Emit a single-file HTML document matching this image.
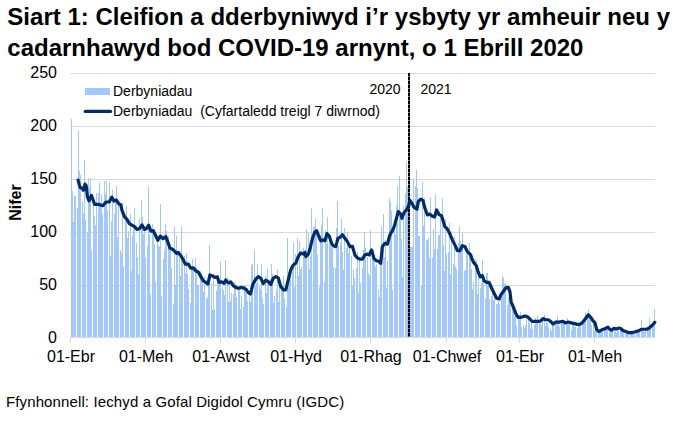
<!DOCTYPE html>
<html><head><meta charset="utf-8"><style>
html,body{margin:0;padding:0;background:#fff;}
body{width:678px;height:421px;overflow:hidden;position:relative;font-family:"Liberation Sans",sans-serif;}
svg{position:absolute;left:0;top:0;}
</style></head><body>
<svg width="678" height="421" viewBox="0 0 678 421" font-family="Liberation Sans, sans-serif">
<text x="7.3" y="24.6" font-size="24" font-weight="bold" letter-spacing="0.02" fill="#000">Siart 1: Cleifion a dderbyniwyd i’r ysbyty yr amheuir neu y</text>
<text x="7.3" y="55.9" font-size="24" font-weight="bold" fill="#000">cadarnhawyd bod COVID-19 arnynt, o 1 Ebrill 2020</text>
<line x1="70" y1="73.5" x2="655" y2="73.5" stroke="#d9d9d9" stroke-width="1"/><line x1="70" y1="126.5" x2="655" y2="126.5" stroke="#d9d9d9" stroke-width="1"/><line x1="70" y1="179.5" x2="655" y2="179.5" stroke="#d9d9d9" stroke-width="1"/><line x1="70" y1="232.5" x2="655" y2="232.5" stroke="#d9d9d9" stroke-width="1"/><line x1="70" y1="285.5" x2="655" y2="285.5" stroke="#d9d9d9" stroke-width="1"/>
<path d="M71 337V119.0h1V337zM72 337V191.0h1V337zM73 337V222.0h1V337zM74 337V196.0h1V337zM75 337V196.0h1V337zM77 337V208.0h1V337zM78 337V131.0h1V337zM79 337V171.0h1V337zM80 337V175.4h1V337zM82 337V201.0h1V337zM83 337V213.2h1V337zM84 337V160.0h1V337zM85 337V220.0h1V337zM87 337V232.1h1V337zM88 337V178.0h1V337zM89 337V187.4h1V337zM90 337V178.0h1V337zM91 337V249.5h1V337zM93 337V200.6h1V337zM94 337V216.0h1V337zM95 337V225.4h1V337zM96 337V193.3h1V337zM98 337V193.0h1V337zM99 337V182.0h1V337zM100 337V202.1h1V337zM101 337V194.4h1V337zM102 337V213.9h1V337zM104 337V181.0h1V337zM105 337V193.6h1V337zM106 337V181.0h1V337zM107 337V210.5h1V337zM109 337V182.0h1V337zM110 337V256.1h1V337zM111 337V221.3h1V337zM112 337V190.0h1V337zM114 337V214.0h1V337zM115 337V202.6h1V337zM116 337V186.0h1V337zM117 337V237.3h1V337zM118 337V204.9h1V337zM120 337V249.8h1V337zM121 337V252.6h1V337zM122 337V202.6h1V337zM123 337V267.0h1V337zM125 337V217.3h1V337zM126 337V206.0h1V337zM127 337V237.5h1V337zM128 337V230.9h1V337zM130 337V214.0h1V337zM131 337V271.2h1V337zM132 337V236.2h1V337zM133 337V224.8h1V337zM134 337V208.0h1V337zM136 337V242.8h1V337zM137 337V256.6h1V337zM138 337V275.1h1V337zM139 337V218.3h1V337zM141 337V200.0h1V337zM142 337V216.7h1V337zM143 337V234.3h1V337zM144 337V227.8h1V337zM145 337V257.1h1V337zM147 337V246.2h1V337zM148 337V186.0h1V337zM149 337V234.3h1V337zM150 337V293.7h1V337zM152 337V224.4h1V337zM153 337V230.7h1V337zM154 337V243.7h1V337zM155 337V281.8h1V337zM157 337V240.1h1V337zM158 337V244.7h1V337zM159 337V247.1h1V337zM160 337V204.0h1V337zM161 337V296.4h1V337zM163 337V258.8h1V337zM164 337V250.4h1V337zM165 337V224.0h1V337zM166 337V231.0h1V337zM168 337V235.9h1V337zM169 337V247.0h1V337zM170 337V247.9h1V337zM171 337V267.6h1V337zM173 337V303.8h1V337zM174 337V227.0h1V337zM175 337V284.9h1V337zM176 337V236.0h1V337zM177 337V252.9h1V337zM179 337V258.4h1V337zM180 337V276.1h1V337zM181 337V227.0h1V337zM182 337V255.0h1V337zM184 337V255.9h1V337zM185 337V273.3h1V337zM186 337V253.0h1V337zM187 337V274.2h1V337zM188 337V288.9h1V337zM190 337V303.4h1V337zM191 337V269.2h1V337zM192 337V259.0h1V337zM193 337V266.4h1V337zM195 337V258.0h1V337zM196 337V266.9h1V337zM197 337V285.3h1V337zM198 337V285.3h1V337zM200 337V270.5h1V337zM201 337V272.8h1V337zM202 337V275.0h1V337zM203 337V291.8h1V337zM204 337V277.2h1V337zM206 337V298.5h1V337zM207 337V296.9h1V337zM208 337V279.1h1V337zM209 337V245.0h1V337zM211 337V283.0h1V337zM212 337V309.5h1V337zM213 337V274.1h1V337zM214 337V309.6h1V337zM216 337V290.5h1V337zM217 337V277.3h1V337zM218 337V278.0h1V337zM219 337V279.2h1V337zM220 337V261.0h1V337zM222 337V287.3h1V337zM223 337V289.8h1V337zM224 337V294.7h1V337zM225 337V260.0h1V337zM227 337V277.0h1V337zM228 337V301.9h1V337zM229 337V278.7h1V337zM230 337V300.7h1V337zM231 337V293.1h1V337zM233 337V293.7h1V337zM234 337V282.2h1V337zM235 337V283.3h1V337zM236 337V297.0h1V337zM238 337V287.9h1V337zM239 337V286.9h1V337zM240 337V309.0h1V337zM241 337V295.6h1V337zM243 337V307.3h1V337zM244 337V284.6h1V337zM245 337V284.8h1V337zM246 337V290.9h1V337zM247 337V301.3h1V337zM249 337V296.2h1V337zM250 337V302.2h1V337zM251 337V265.0h1V337zM252 337V264.0h1V337zM254 337V250.0h1V337zM255 337V285.7h1V337zM256 337V283.4h1V337zM257 337V264.0h1V337zM259 337V286.2h1V337zM260 337V289.4h1V337zM261 337V264.0h1V337zM262 337V297.7h1V337zM263 337V303.5h1V337zM265 337V275.5h1V337zM266 337V292.7h1V337zM267 337V269.0h1V337zM268 337V283.8h1V337zM270 337V279.4h1V337zM271 337V264.0h1V337zM272 337V274.0h1V337zM273 337V303.0h1V337zM274 337V296.4h1V337zM276 337V289.8h1V337zM277 337V269.0h1V337zM278 337V301.9h1V337zM279 337V283.7h1V337zM281 337V286.0h1V337zM282 337V284.5h1V337zM283 337V276.0h1V337zM284 337V297.7h1V337zM286 337V307.1h1V337zM287 337V238.0h1V337zM288 337V272.1h1V337zM289 337V272.1h1V337zM290 337V275.2h1V337zM292 337V270.5h1V337zM293 337V243.0h1V337zM294 337V287.1h1V337zM295 337V254.0h1V337zM297 337V238.0h1V337zM298 337V275.9h1V337zM299 337V241.0h1V337zM300 337V268.6h1V337zM301 337V267.1h1V337zM303 337V248.0h1V337zM304 337V258.2h1V337zM305 337V249.3h1V337zM306 337V229.0h1V337zM308 337V233.0h1V337zM309 337V268.6h1V337zM310 337V256.3h1V337zM311 337V208.0h1V337zM313 337V227.0h1V337zM314 337V227.0h1V337zM315 337V219.0h1V337zM316 337V233.9h1V337zM317 337V255.1h1V337zM319 337V286.8h1V337zM320 337V235.4h1V337zM321 337V225.0h1V337zM322 337V208.0h1V337zM324 337V282.2h1V337zM325 337V229.5h1V337zM326 337V243.7h1V337zM327 337V217.0h1V337zM329 337V242.4h1V337zM330 337V238.0h1V337zM331 337V246.8h1V337zM332 337V247.7h1V337zM333 337V267.0h1V337zM335 337V268.4h1V337zM336 337V228.0h1V337zM337 337V201.0h1V337zM338 337V246.4h1V337zM340 337V242.1h1V337zM341 337V219.0h1V337zM342 337V252.0h1V337zM343 337V269.5h1V337zM344 337V228.0h1V337zM346 337V248.1h1V337zM347 337V232.0h1V337zM348 337V253.2h1V337zM349 337V245.3h1V337zM351 337V255.9h1V337zM352 337V286.1h1V337zM353 337V270.3h1V337zM354 337V277.9h1V337zM356 337V267.9h1V337zM357 337V252.4h1V337zM358 337V293.3h1V337zM359 337V256.8h1V337zM360 337V283.3h1V337zM362 337V267.7h1V337zM363 337V249.8h1V337zM364 337V232.0h1V337zM365 337V247.8h1V337zM367 337V256.9h1V337zM368 337V273.4h1V337zM369 337V276.4h1V337zM370 337V230.0h1V337zM372 337V250.8h1V337zM373 337V250.3h1V337zM374 337V257.6h1V337zM375 337V267.1h1V337zM376 337V263.7h1V337zM378 337V289.1h1V337zM379 337V297.2h1V337zM380 337V258.8h1V337zM381 337V227.0h1V337zM383 337V214.0h1V337zM384 337V257.1h1V337zM385 337V240.1h1V337zM386 337V288.0h1V337zM387 337V260.5h1V337zM389 337V198.0h1V337zM390 337V202.0h1V337zM391 337V211.0h1V337zM392 337V289.7h1V337zM394 337V224.3h1V337zM395 337V234.7h1V337zM396 337V206.0h1V337zM397 337V186.0h1V337zM399 337V176.0h1V337zM400 337V217.9h1V337zM401 337V238.8h1V337zM402 337V277.1h1V337zM403 337V206.0h1V337zM405 337V193.0h1V337zM406 337V162.0h1V337zM407 337V187.0h1V337zM408 337V191.9h1V337zM410 337V247.0h1V337zM411 337V247.0h1V337zM412 337V247.0h1V337zM413 337V179.0h1V337zM415 337V186.0h1V337zM416 337V170.0h1V337zM417 337V188.0h1V337zM418 337V236.3h1V337zM419 337V236.0h1V337zM421 337V285.7h1V337zM422 337V182.0h1V337zM423 337V225.8h1V337zM424 337V198.4h1V337zM426 337V240.0h1V337zM427 337V240.0h1V337zM428 337V238.3h1V337zM429 337V258.2h1V337zM430 337V197.0h1V337zM432 337V258.2h1V337zM433 337V229.1h1V337zM434 337V248.5h1V337zM435 337V194.0h1V337zM437 337V249.3h1V337zM438 337V235.0h1V337zM439 337V235.0h1V337zM440 337V216.1h1V337zM442 337V198.0h1V337zM443 337V245.1h1V337zM444 337V270.8h1V337zM445 337V218.6h1V337zM446 337V254.0h1V337zM448 337V251.5h1V337zM449 337V223.0h1V337zM450 337V273.6h1V337zM451 337V231.3h1V337zM453 337V264.3h1V337zM454 337V237.0h1V337zM455 337V266.9h1V337zM456 337V269.0h1V337zM458 337V243.3h1V337zM459 337V226.0h1V337zM460 337V241.1h1V337zM461 337V250.9h1V337zM462 337V233.0h1V337zM464 337V271.0h1V337zM465 337V269.5h1V337zM466 337V253.6h1V337zM467 337V251.9h1V337zM469 337V243.0h1V337zM470 337V255.3h1V337zM471 337V269.0h1V337zM472 337V288.6h1V337zM473 337V282.0h1V337zM475 337V258.6h1V337zM476 337V261.4h1V337zM477 337V293.9h1V337zM478 337V275.8h1V337zM480 337V288.0h1V337zM481 337V282.8h1V337zM482 337V260.0h1V337zM483 337V275.8h1V337zM485 337V299.3h1V337zM486 337V273.0h1V337zM487 337V273.0h1V337zM488 337V284.1h1V337zM489 337V298.7h1V337zM491 337V296.0h1V337zM492 337V286.4h1V337zM493 337V299.5h1V337zM494 337V291.7h1V337zM496 337V304.2h1V337zM497 337V304.3h1V337zM498 337V301.3h1V337zM499 337V303.5h1V337zM501 337V294.9h1V337zM502 337V276.0h1V337zM503 337V278.0h1V337zM504 337V284.0h1V337zM505 337V283.3h1V337zM507 337V304.8h1V337zM508 337V297.0h1V337zM509 337V290.8h1V337zM510 337V305.3h1V337zM512 337V308.2h1V337zM513 337V311.8h1V337zM514 337V316.0h1V337zM515 337V315.5h1V337zM516 337V326.0h1V337zM518 337V316.2h1V337zM519 337V315.3h1V337zM520 337V312.0h1V337zM521 337V327.0h1V337zM523 337V324.9h1V337zM524 337V327.6h1V337zM525 337V325.4h1V337zM526 337V316.4h1V337zM528 337V320.0h1V337zM529 337V322.7h1V337zM530 337V328.4h1V337zM531 337V323.2h1V337zM532 337V328.8h1V337zM534 337V325.3h1V337zM535 337V318.0h1V337zM536 337V320.4h1V337zM537 337V316.0h1V337zM539 337V321.0h1V337zM540 337V318.9h1V337zM541 337V324.5h1V337zM542 337V321.4h1V337zM544 337V314.0h1V337zM545 337V326.0h1V337zM546 337V322.0h1V337zM547 337V322.8h1V337zM548 337V326.8h1V337zM550 337V328.9h1V337zM551 337V330.9h1V337zM552 337V326.0h1V337zM553 337V324.2h1V337zM555 337V323.7h1V337zM556 337V320.3h1V337zM557 337V316.0h1V337zM558 337V323.3h1V337zM559 337V327.0h1V337zM561 337V319.8h1V337zM562 337V322.6h1V337zM563 337V320.4h1V337zM564 337V323.8h1V337zM566 337V320.8h1V337zM567 337V318.0h1V337zM568 337V323.7h1V337zM569 337V321.8h1V337zM571 337V329.8h1V337zM572 337V323.8h1V337zM573 337V322.4h1V337zM574 337V325.9h1V337zM575 337V326.9h1V337zM577 337V327.9h1V337zM578 337V323.2h1V337zM579 337V322.6h1V337zM580 337V323.8h1V337zM582 337V321.7h1V337zM583 337V321.1h1V337zM584 337V322.8h1V337zM585 337V312.0h1V337zM587 337V313.8h1V337zM588 337V309.0h1V337zM589 337V314.2h1V337zM590 337V315.6h1V337zM591 337V325.0h1V337zM593 337V322.9h1V337zM594 337V331.0h1V337zM595 337V326.5h1V337zM596 337V331.8h1V337zM598 337V332.4h1V337zM599 337V332.3h1V337zM600 337V330.4h1V337zM601 337V330.1h1V337zM602 337V330.1h1V337zM604 337V327.7h1V337zM605 337V331.2h1V337zM606 337V327.4h1V337zM607 337V326.3h1V337zM609 337V328.6h1V337zM610 337V330.9h1V337zM611 337V329.0h1V337zM612 337V328.3h1V337zM614 337V327.1h1V337zM615 337V328.0h1V337zM616 337V333.1h1V337zM617 337V329.9h1V337zM618 337V331.0h1V337zM620 337V329.8h1V337zM621 337V328.5h1V337zM622 337V329.5h1V337zM623 337V332.5h1V337zM625 337V333.6h1V337zM626 337V332.9h1V337zM627 337V331.8h1V337zM628 337V332.6h1V337zM630 337V331.7h1V337zM631 337V332.3h1V337zM632 337V332.9h1V337zM633 337V331.9h1V337zM634 337V331.4h1V337zM636 337V331.5h1V337zM637 337V331.2h1V337zM638 337V329.9h1V337zM639 337V329.3h1V337zM641 337V320.0h1V337zM642 337V329.1h1V337zM643 337V330.9h1V337zM644 337V331.5h1V337zM645 337V331.0h1V337zM647 337V327.6h1V337zM648 337V327.0h1V337zM649 337V318.0h1V337zM650 337V328.4h1V337zM652 337V325.2h1V337zM653 337V324.3h1V337zM654 337V309.0h1V337z" fill="#a2c8ff" shape-rendering="crispEdges"/>
<line x1="70" y1="337.5" x2="655" y2="337.5" stroke="#d9d9d9" stroke-width="1"/>
<line x1="70.5" y1="337" x2="70.5" y2="343" stroke="#d9d9d9" stroke-width="1"/><line x1="145.5" y1="337" x2="145.5" y2="343" stroke="#d9d9d9" stroke-width="1"/><line x1="220.5" y1="337" x2="220.5" y2="343" stroke="#d9d9d9" stroke-width="1"/><line x1="295.5" y1="337" x2="295.5" y2="343" stroke="#d9d9d9" stroke-width="1"/><line x1="370.5" y1="337" x2="370.5" y2="343" stroke="#d9d9d9" stroke-width="1"/><line x1="446.5" y1="337" x2="446.5" y2="343" stroke="#d9d9d9" stroke-width="1"/><line x1="519.5" y1="337" x2="519.5" y2="343" stroke="#d9d9d9" stroke-width="1"/><line x1="594.5" y1="337" x2="594.5" y2="343" stroke="#d9d9d9" stroke-width="1"/>
<line x1="409" y1="73" x2="409" y2="337" stroke="#222" stroke-width="1.2"/><line x1="409" y1="73" x2="409" y2="337" stroke="#000" stroke-width="2" stroke-dasharray="3 1"/>
<path d="M78.08,180.11 L79.30,184.98 L80.11,187.41 L82.14,188.22 L83.35,190.25 L84.98,184.17 L86.19,185.79 L87.41,197.14 L89.03,200.79 L91.46,195.52 L92.68,198.76 L94.71,204.44 L98.76,204.44 L102.82,205.66 L106.06,202.01 L109.31,202.01 L111.74,197.14 L114.17,201.20 L116.20,199.98 L119.04,204.04 L120.66,204.44 L122.08,210.60 L124.57,216.93 L127.07,219.42 L129.23,223.58 L132.06,225.24 L134.56,226.58 L137.05,229.40 L139.55,228.57 L142.04,224.91 L144.54,229.40 L146.54,228.57 L148.70,225.24 L150.86,231.07 L153.19,230.57 L155.85,236.06 L157.85,240.22 L160.35,236.06 L162.84,238.56 L165.82,236.64 L167.99,242.46 L169.98,248.29 L172.48,249.12 L174.98,251.61 L176.64,253.28 L178.30,252.45 L180.80,255.77 L183.29,259.93 L185.29,264.09 L188.29,264.09 L190.78,268.25 L193.28,267.92 L195.77,270.75 L198.60,272.41 L200.77,276.57 L203.26,280.73 L205.76,282.40 L207.92,284.06 L209.92,274.91 L212.91,276.24 L214.91,277.40 L217.40,276.91 L219.07,282.40 L221.56,281.90 L224.06,283.23 L225.72,279.90 L228.22,282.90 L230.72,281.90 L233.21,285.72 L235.71,287.39 L238.20,288.22 L241.53,287.39 L244.03,288.22 L245.82,289.08 L248.32,292.41 L250.32,294.08 L252.98,284.09 L255.81,279.10 L258.30,276.61 L260.80,278.27 L263.29,283.59 L265.79,280.27 L268.29,281.60 L270.78,284.59 L273.28,278.27 L275.77,276.61 L278.27,277.94 L280.77,286.59 L283.59,289.92 L285.76,289.92 L288.25,279.93 L290.75,269.95 L293.24,264.96 L295.74,263.29 L298.24,256.64 L300.73,252.98 L303.23,254.14 L304.89,252.48 L305.82,256.60 L308.32,254.10 L310.32,247.45 L312.48,238.29 L314.64,232.47 L316.64,230.81 L318.64,235.80 L320.80,240.79 L323.29,239.96 L324.96,240.79 L326.96,233.64 L329.12,235.80 L331.61,243.29 L333.28,245.78 L335.77,246.61 L337.94,238.29 L339.93,237.46 L342.43,234.63 L344.93,238.29 L347.42,241.62 L349.92,246.61 L352.41,246.28 L354.91,254.93 L357.40,257.93 L359.90,259.09 L362.40,259.09 L364.89,254.93 L367.39,254.10 L369.05,254.93 L371.55,249.94 L374.04,258.59 L376.54,260.76 L379.03,261.59 L380.70,263.25 L382.36,246.61 L384.86,243.29 L387.35,244.12 L389.85,234.97 L392.35,230.81 L394.84,224.98 L395.32,222.44 L398.31,211.62 L400.81,214.12 L401.97,218.28 L404.13,212.45 L406.63,209.63 L408.63,205.80 L409.96,200.31 L411.96,203.30 L414.12,207.46 L416.95,209.13 L418.28,201.64 L420.77,199.14 L422.94,200.31 L424.93,208.29 L427.43,214.95 L429.93,214.12 L432.42,216.28 L434.58,216.95 L436.58,209.96 L439.08,214.62 L441.57,215.78 L444.90,226.60 L447.40,229.09 L449.89,234.08 L452.39,239.91 L454.88,244.90 L457.38,250.72 L459.88,250.72 L462.37,245.73 L464.87,246.56 L467.36,251.56 L470.69,254.88 L471.66,258.30 L473.66,262.46 L476.32,265.79 L478.32,272.45 L480.32,276.94 L482.48,275.77 L484.14,280.77 L486.64,282.43 L489.13,282.43 L491.63,288.25 L494.13,293.24 L496.62,298.24 L499.12,299.07 L500.78,294.91 L503.28,291.58 L505.77,287.92 L508.27,287.42 L509.93,291.58 L511.17,302.01 L513.49,307.41 L515.80,313.58 L518.12,317.44 L520.43,317.44 L522.75,316.67 L525.06,315.90 L527.38,316.67 L529.69,318.98 L532.01,321.30 L535.09,321.30 L538.18,321.30 L540.49,320.99 L543.27,318.52 L545.43,319.75 L548.21,319.75 L550.52,321.30 L553.15,324.07 L555.93,322.07 L559.01,322.07 L562.87,321.30 L565.19,322.84 L568.27,322.07 L571.36,322.84 L574.44,323.61 L577.53,324.38 L580.62,324.07 L582.93,322.07 L585.25,318.98 L588.33,314.81 L591.17,317.78 L593.02,320.86 L594.88,322.72 L596.73,329.51 L598.58,331.36 L600.43,330.74 L602.28,329.51 L604.75,328.89 L607.84,327.04 L609.69,329.26 L611.54,330.12 L614.01,328.27 L616.48,328.89 L618.95,328.02 L620.80,328.52 L623.27,330.74 L625.74,331.36 L628.21,332.59 L631.30,332.59 L634.38,331.98 L636.85,331.36 L639.32,330.49 L641.17,329.26 L644.26,329.26 L646.73,329.26 L649.20,328.02 L651.67,325.80 L653.52,323.95 L654.75,322.35" fill="none" stroke="#002c68" stroke-width="3.2" stroke-linejoin="round" stroke-linecap="round"/>
<g font-size="16" fill="#000"><text x="57" y="78.2" text-anchor="end">250</text><text x="57" y="131.2" text-anchor="end">200</text><text x="57" y="184.2" text-anchor="end">150</text><text x="57" y="237.2" text-anchor="end">100</text><text x="57" y="290.2" text-anchor="end">50</text><text x="57" y="342.7" text-anchor="end">0</text></g>
<g font-size="16" fill="#000"><text x="71" y="361.8" text-anchor="middle">01-Ebr</text><text x="146" y="361.8" text-anchor="middle">01-Meh</text><text x="221" y="361.8" text-anchor="middle">01-Awst</text><text x="296" y="361.8" text-anchor="middle">01-Hyd</text><text x="371" y="361.8" text-anchor="middle">01-Rhag</text><text x="447" y="361.8" text-anchor="middle">01-Chwef</text><text x="520" y="361.8" text-anchor="middle">01-Ebr</text><text x="595" y="361.8" text-anchor="middle">01-Meh</text></g>
<text transform="translate(21.3,202.5) rotate(-90)" text-anchor="middle" font-size="16" font-weight="bold">Nifer</text>
<rect x="85" y="88" width="25" height="7" fill="#a2c8ff"/>
<line x1="85.2" y1="111.4" x2="110.6" y2="111.4" stroke="#002c68" stroke-width="3.2" stroke-linecap="round"/>
<g font-size="14" fill="#000">
<text x="113" y="96">Derbyniadau</text>
<text x="113" y="116" xml:space="preserve">Derbyniadau  (Cyfartaledd treigl 7 diwrnod)</text>
<text x="369.5" y="94">2020</text>
<text x="420.5" y="94">2021</text>
</g>
<text x="6" y="407.1" font-size="15" letter-spacing="0.12" fill="#000">Ffynhonnell: Iechyd a Gofal Digidol Cymru (IGDC)</text>
</svg>
</body></html>
